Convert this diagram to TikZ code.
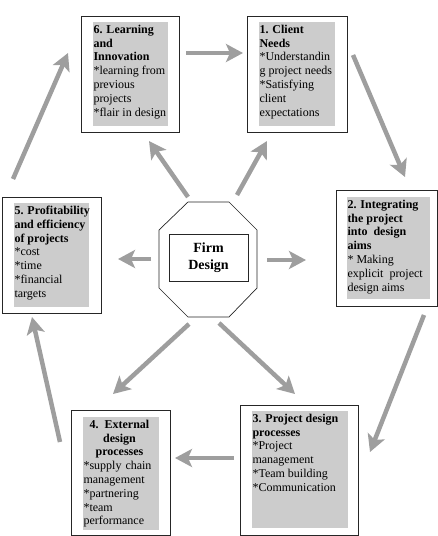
\documentclass[tikz,border=0pt]{standalone}
\usepackage{fontspec}
\setmainfont{Liberation Serif}
\usetikzlibrary{arrows.meta}

\begin{document}
\begin{tikzpicture}[x=1pt,y=-1pt,
  frame/.style={draw=black!85,line width=0.9pt,inner sep=0pt},
  shade/.style={fill=black!20,inner sep=0pt},
  txt/.style={anchor=north west,inner xsep=0.5pt,inner ysep=3pt,align=left,font=\fontsize{12}{13.8}\selectfont},
  flow/.style={draw=black!38,line width=4.5pt,-{Stealth[length=17pt,width=18pt,inset=4pt]}}]
\useasboundingbox (0,0) rectangle (437,536);

% the six boxes
\node[frame,minimum width=98,minimum height=116] (f6) at (130,74) {};
\node[shade,minimum width=75,minimum height=104] (g6) at (130.5,74) {};
\node[txt] (t6) at (g6.north west) {\textbf{6. Learning}\\\textbf{and}\\\textbf{Innovation}\\{*}learning from\\previous\\projects\\{*}flair in design};

\node[frame,minimum width=100,minimum height=116] (f1) at (297,74) {};
\node[shade,minimum width=76,minimum height=104] (g1) at (297,74) {};
\node[txt] (t1) at (g1.north west) {\textbf{1. Client}\\\textbf{Needs}\\{*}Understandin\\g project needs\\{*}Satisfying\\client\\expectations};

\node[frame,minimum width=101,minimum height=116] (f2) at (386.5,248) {};
\node[shade,minimum width=83,minimum height=102] (g2) at (388.5,248) {};
\node[txt] (t2) at (g2.north west) {\textbf{2. Integrating}\\\textbf{the project}\\\textbf{into\ \ design}\\\textbf{aims}\\{*} Making\\explicit\ \ project\\design aims};

\node[frame,minimum width=118,minimum height=130] (f3) at (299,470) {};
\node[shade,minimum width=96,minimum height=117] (g3) at (300,469.5) {};
\node[txt] (t3) at (g3.north west) {\textbf{3. Project design}\\\textbf{processes}\\{*}Project\\management\\{*}Team building\\{*}Communication};

\node[frame,minimum width=99,minimum height=125] (f4) at (120.5,472.5) {};
\node[shade,minimum width=76,minimum height=113] (g4) at (121,473.5) {};
\node[txt,text width=72] (t4) at (g4.north west) {{\centering\textbf{4. External}\\\textbf{design}\\\textbf{processes}\par}\raggedright{*}supply chain\\management\\{*}partnering\\{*}team\\performance};

\node[frame,minimum width=99,minimum height=116] (f5) at (51.5,255) {};
\node[shade,minimum width=75,minimum height=104] (g5) at (51.5,255) {};
\node[txt] (t5) at (g5.north west) {\textbf{5. Profitability}\\\textbf{and efficiency}\\\textbf{of projects}\\{*}cost\\{*}time\\{*}financial\\targets};

% centre
\draw[black!85,line width=0.7pt] (188,202) -- (229,202) -- (257,230) -- (257,288) -- (229,317) -- (188,317) -- (159,288) -- (159,230) -- cycle;
\node[draw=black!85,line width=0.8pt,minimum width=79,minimum height=47,align=center,font=\fontsize{14}{17}\selectfont\bfseries] (firm) at (208.5,257.5) {Firm\\Design};

% arrow ends
\coordinate (s61) at (186,53);  \coordinate (e61) at (243,53);
\coordinate (s12) at (353,55);  \coordinate (e12) at (405,177);
\coordinate (s23) at (424,315); \coordinate (e23) at (370,452);
\coordinate (s34) at (234,458); \coordinate (e34) at (175,458);
\coordinate (s45) at (60,442);  \coordinate (e45) at (32,317);
\coordinate (s56) at (13,179);  \coordinate (e56) at (68,53);
\coordinate (m6) at (188,197);  \coordinate (n6) at (149,141);
\coordinate (m1) at (237,195);  \coordinate (n1) at (267,141);
\coordinate (m2) at (267,260);  \coordinate (n2) at (306,260);
\coordinate (m3) at (219,323);  \coordinate (n3) at (295,394);
\coordinate (m4) at (189,324);  \coordinate (n4) at (113,394);
\coordinate (m5) at (151,259);  \coordinate (n5) at (118,259);

% cycle
\draw[flow] (s61) -- (e61);
\draw[flow] (s12) -- (e12);
\draw[flow] (s23) -- (e23);
\draw[flow] (s34) -- (e34);
\draw[flow] (s45) -- (e45);
\draw[flow] (s56) -- (e56);
% out of the centre
\draw[flow] (m6) -- (n6);
\draw[flow] (m1) -- (n1);
\draw[flow] (m2) -- (n2);
\draw[flow] (m3) -- (n3);
\draw[flow] (m4) -- (n4);
\draw[flow] (m5) -- (n5);
\end{tikzpicture}
\end{document}
